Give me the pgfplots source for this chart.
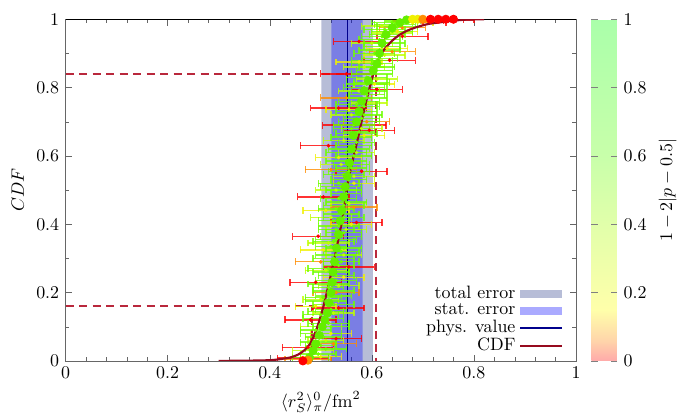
\documentclass[border=0pt]{standalone}
\usepackage{pgfplots}
\usepackage{pgfplotstable}
\pgfplotsset{compat=1.18}
\definecolor{cR}{RGB}{255,0,0}
\definecolor{cO}{RGB}{255,140,0}
\definecolor{cY}{RGB}{240,240,0}
\definecolor{cYG}{RGB}{190,255,0}
\definecolor{cG}{RGB}{110,255,0}
\definecolor{cDot}{RGB}{100,238,0}
\definecolor{totc}{RGB}{18,38,122}
\definecolor{physc}{RGB}{0,0,140}
\definecolor{cdfc}{RGB}{150,10,30}
\definecolor{dashc}{RGB}{185,40,60}
\pgfplotsset{
 colormap={pale}{rgb255(0cm)=(255,170,170); rgb255(0.6cm)=(255,213,170); rgb255(1.5cm)=(255,255,170); rgb255(4cm)=(225,255,170); rgb255(6cm)=(200,255,170); rgb255(10cm)=(170,255,170)},
 colormap={sat}{rgb255(0cm)=(255,0,0); rgb255(0.6cm)=(255,128,0); rgb255(1.5cm)=(255,255,0); rgb255(4cm)=(165,255,0); rgb255(6cm)=(90,255,0); rgb255(10cm)=(0,255,0)},
 cloud/.style={only marks, mark=*, mark size=0.8bp, forget plot,
   error bars/x dir=both, error bars/x explicit,
   error bars/error bar style={line width=0.75bp, opacity=0.8},
   error bars/error mark options={rotate=90, line width=0.75bp, mark size=1.9bp, opacity=0.8}},
 bandlegend/.style={legend image code/.code={\fill[##1] (0bp,-2.2bp) rectangle (23bp,2.2bp);}},
 linelegend/.style={legend image code/.code={\draw[##1] (0bp,0bp) -- (23bp,0bp);}},
 dashl/.style={color=dashc, line width=1.1bp, dash pattern=on 4.5bp off 3bp, forget plot},
}
\pgfplotstableread{
x y e
0.495 0.020 0.035
0.500 0.045 0.030
0.505 0.070 0.035
0.490 0.090 0.030
0.515 0.110 0.040
0.500 0.135 0.035
0.520 0.150 0.030
0.510 0.175 0.040
0.525 0.190 0.035
0.515 0.215 0.030
0.530 0.235 0.040
0.520 0.260 0.035
0.535 0.280 0.030
0.525 0.300 0.040
0.540 0.320 0.035
0.520 0.335 0.030
0.530 0.355 0.040
0.545 0.375 0.035
0.535 0.395 0.040
0.525 0.410 0.030
0.540 0.430 0.035
0.545 0.455 0.040
0.535 0.475 0.035
0.550 0.490 0.030
0.540 0.510 0.040
0.555 0.530 0.035
0.545 0.545 0.040
0.560 0.565 0.030
0.550 0.585 0.040
0.565 0.600 0.035
0.555 0.620 0.040
0.570 0.640 0.035
0.560 0.655 0.040
0.575 0.670 0.030
0.565 0.690 0.040
0.580 0.710 0.035
0.570 0.730 0.040
0.585 0.745 0.030
0.575 0.760 0.040
0.590 0.780 0.035
0.585 0.800 0.040
0.600 0.815 0.035
0.590 0.830 0.040
0.605 0.850 0.035
0.600 0.870 0.040
0.615 0.885 0.035
0.605 0.900 0.040
0.620 0.920 0.035
0.615 0.940 0.040
0.630 0.955 0.035
0.625 0.970 0.040
0.645 0.985 0.040
0.660 0.995 0.035
0.480 0.010 0.035
0.510 0.035 0.040
0.495 0.055 0.035
0.500 0.080 0.040
0.520 0.100 0.035
0.505 0.125 0.040
0.510 0.145 0.035
0.525 0.165 0.040
0.505 0.185 0.035
0.525 0.205 0.040
0.515 0.225 0.040
0.530 0.250 0.035
0.515 0.270 0.040
0.540 0.290 0.035
0.530 0.310 0.040
0.545 0.330 0.035
0.525 0.350 0.040
0.540 0.365 0.040
0.530 0.385 0.035
0.545 0.420 0.040
0.530 0.445 0.035
0.550 0.465 0.040
0.545 0.500 0.035
0.535 0.520 0.040
0.555 0.555 0.040
0.560 0.575 0.035
0.550 0.610 0.040
0.565 0.630 0.035
0.570 0.665 0.040
0.560 0.680 0.035
0.575 0.700 0.040
0.585 0.720 0.035
0.570 0.750 0.040
0.590 0.770 0.040
0.595 0.790 0.035
0.590 0.810 0.040
0.600 0.840 0.040
0.610 0.860 0.035
0.600 0.880 0.040
0.615 0.910 0.040
0.625 0.930 0.040
0.620 0.950 0.040
0.640 0.965 0.040
0.650 0.978 0.040
0.640 0.990 0.040
}\tabG
\pgfplotstableread{
x y e
0.485 0.030 0.040
0.510 0.060 0.035
0.500 0.100 0.040
0.525 0.140 0.040
0.500 0.180 0.035
0.535 0.220 0.040
0.510 0.265 0.040
0.545 0.310 0.035
0.515 0.345 0.040
0.550 0.385 0.040
0.520 0.420 0.040
0.555 0.460 0.035
0.530 0.500 0.040
0.565 0.540 0.040
0.540 0.575 0.040
0.570 0.610 0.035
0.545 0.645 0.040
0.580 0.680 0.040
0.560 0.720 0.040
0.595 0.755 0.035
0.575 0.790 0.040
0.610 0.825 0.040
0.585 0.860 0.040
0.625 0.895 0.040
0.600 0.930 0.040
0.640 0.960 0.040
0.620 0.980 0.040
}\tabYG
\pgfplotstableread{
x y e
0.500 0.012 0.040
0.520 0.080 0.040
0.490 0.160 0.040
0.545 0.245 0.040
0.505 0.325 0.045
0.560 0.400 0.040
0.510 0.440 0.045
0.565 0.520 0.040
0.535 0.595 0.045
0.585 0.660 0.040
0.555 0.735 0.045
0.605 0.810 0.040
0.575 0.875 0.045
0.630 0.915 0.040
0.650 0.965 0.040
0.680 0.990 0.040
0.700 0.998 0.040
}\tabY
\pgfplotstableread{
x y e
0.475 0.005 0.045
0.525 0.050 0.045
0.530 0.200 0.045
0.500 0.290 0.050
0.565 0.450 0.045
0.520 0.560 0.050
0.590 0.700 0.045
0.550 0.770 0.050
0.640 0.905 0.045
0.660 0.975 0.045
0.720 0.998 0.040
}\tabO
\pgfplotstableread{
x y e
0.465 0.008 0.050
0.475 0.040 0.050
0.530 0.065 0.050
0.480 0.120 0.050
0.535 0.155 0.050
0.490 0.230 0.050
0.555 0.275 0.050
0.495 0.365 0.050
0.570 0.405 0.050
0.505 0.480 0.050
0.580 0.555 0.050
0.515 0.630 0.055
0.566 0.690 0.062
0.595 0.675 0.050
0.535 0.740 0.055
0.610 0.795 0.050
0.550 0.840 0.050
0.635 0.880 0.050
0.575 0.935 0.050
0.660 0.950 0.050
0.690 0.995 0.050
0.700 0.990 0.045
0.740 0.998 0.040
0.760 0.998 0.040
}\tabR
\pgfplotstableread{
x y
0.478 0.010
0.485 0.030
0.490 0.050
0.497 0.075
0.503 0.100
0.508 0.120
0.513 0.140
0.516 0.170
0.520 0.200
0.522 0.230
0.524 0.260
0.527 0.290
0.531 0.330
0.535 0.370
0.538 0.410
0.541 0.440
0.545 0.480
0.548 0.510
0.552 0.540
0.556 0.580
0.560 0.620
0.564 0.660
0.570 0.700
0.575 0.730
0.580 0.760
0.585 0.790
0.593 0.820
0.603 0.850
0.610 0.870
0.615 0.900
0.620 0.930
0.628 0.955
0.640 0.975
0.655 0.990
0.668 0.998
}\tabDots
\pgfplotstableread{
x y
0.30 0.000
0.35 0.0005
0.40 0.002
0.42 0.005
0.44 0.010
0.455 0.018
0.467 0.030
0.479 0.050
0.488 0.078
0.496 0.112
0.505 0.158
0.514 0.214
0.524 0.280
0.533 0.345
0.541 0.405
0.547 0.460
0.553 0.522
0.563 0.590
0.573 0.653
0.582 0.715
0.591 0.772
0.606 0.855
0.618 0.897
0.629 0.920
0.642 0.940
0.655 0.955
0.670 0.967
0.688 0.977
0.710 0.986
0.734 0.991
0.760 0.996
0.786 0.999
0.820 1.000
}\tabCDF
\begin{document}
\begin{tikzpicture}
\begin{axis}[name=main, scale only axis, width=283.6bp, height=189.8bp,
 xmin=0, xmax=1, ymin=0, ymax=1,
 xtick={0,0.2,0.4,0.6,0.8,1}, ytick={0,0.2,0.4,0.6,0.8,1},
 minor x tick num=4, minor y tick num=1,
 tick align=inside, xtick pos=both, ytick pos=both,
 xticklabel pos=left, yticklabel pos=left,
 major tick length=3.5bp, minor tick length=2bp,
 tick style={gray!80!black}, axis line style={gray!80!black},
 xlabel={$\langle r_S^2\rangle_\pi^0/\mathrm{fm}^2$}, ylabel={$CDF$},
 colorbar, colormap name=sat, point meta min=0, point meta max=1,
 colorbar style={colormap name=pale, width=14.4bp,
   at={(parent axis.north east)}, anchor=north west, xshift=0bp,
   ytick={0,0.2,0.4,0.6,0.8,1}, ylabel={$1-2|p-0.5|$},
   axis line style={draw=none}, tick align=inside,
   major tick length=3.6bp, tick style={gray}},
 legend style={draw=none, fill=none, at={(0.985,0.0)}, anchor=south east,
   row sep=-2.5bp},
 legend cell align=right, legend plot pos=right,
]
% bands
\addplot[draw=none, fill=totc, fill opacity=0.3, bandlegend]
  coordinates {(0.501,0) (0.501,1) (0.602,1) (0.602,0)} \closedcycle;
\addlegendentry{total error}
\addplot[draw=none, fill=blue, fill opacity=0.333, bandlegend]
  coordinates {(0.521,0) (0.521,1) (0.582,1) (0.582,0)} \closedcycle;
\addlegendentry{stat. error}
\addplot[physc, line width=0.8bp, linelegend]
  coordinates {(0.552,0) (0.552,1)};
\addlegendentry{phys. value}
% dashed percentile lines
\addplot[dashl] coordinates {(0,0.84) (0.608,0.84) (0.608,0)};
\addplot[dashl] coordinates {(0,0.16) (0.482,0.16) (0.482,0)};
% data cloud
\addplot[color=cR, cloud] table[x=x, y=y, x error=e] {\tabR};
\addplot[color=cO, cloud] table[x=x, y=y, x error=e] {\tabO};
\addplot[color=cY, cloud] table[x=x, y=y, x error=e] {\tabY};
\addplot[color=cYG, cloud] table[x=x, y=y, x error=e] {\tabYG};
\addplot[color=cG, cloud] table[x=x, y=y, x error=e] {\tabG};
\addplot[only marks, mark=*, mark size=2.3bp, color=cDot, forget plot] table[x=x, y=y] {\tabDots};
\addplot[only marks, mark=*, mark size=2.3bp, color=cY, forget plot] coordinates {(0.680,1) (0.690,1)};
\addplot[only marks, mark=*, mark size=2.3bp, color=cO, forget plot] coordinates {(0.475,0.002) (0.700,1)};
\addplot[only marks, mark=*, mark size=2.3bp, color=cR, forget plot] coordinates {(0.465,0) (0.715,1) (0.730,1) (0.745,1) (0.760,1)};
\addplot[black, line width=0.5bp, forget plot] coordinates {(0,1) (1,1)};
% CDF
\addplot[cdfc, line width=1.2bp, smooth, tension=0.4, linelegend]
  table[x=x, y=y] {\tabCDF};
\addlegendentry{CDF}
\end{axis}
\path ([xshift=-36.4bp,yshift=-30.6bp]main.south west) rectangle ([xshift=65bp,yshift=10.7bp]main.north east);
\end{tikzpicture}
\end{document}
